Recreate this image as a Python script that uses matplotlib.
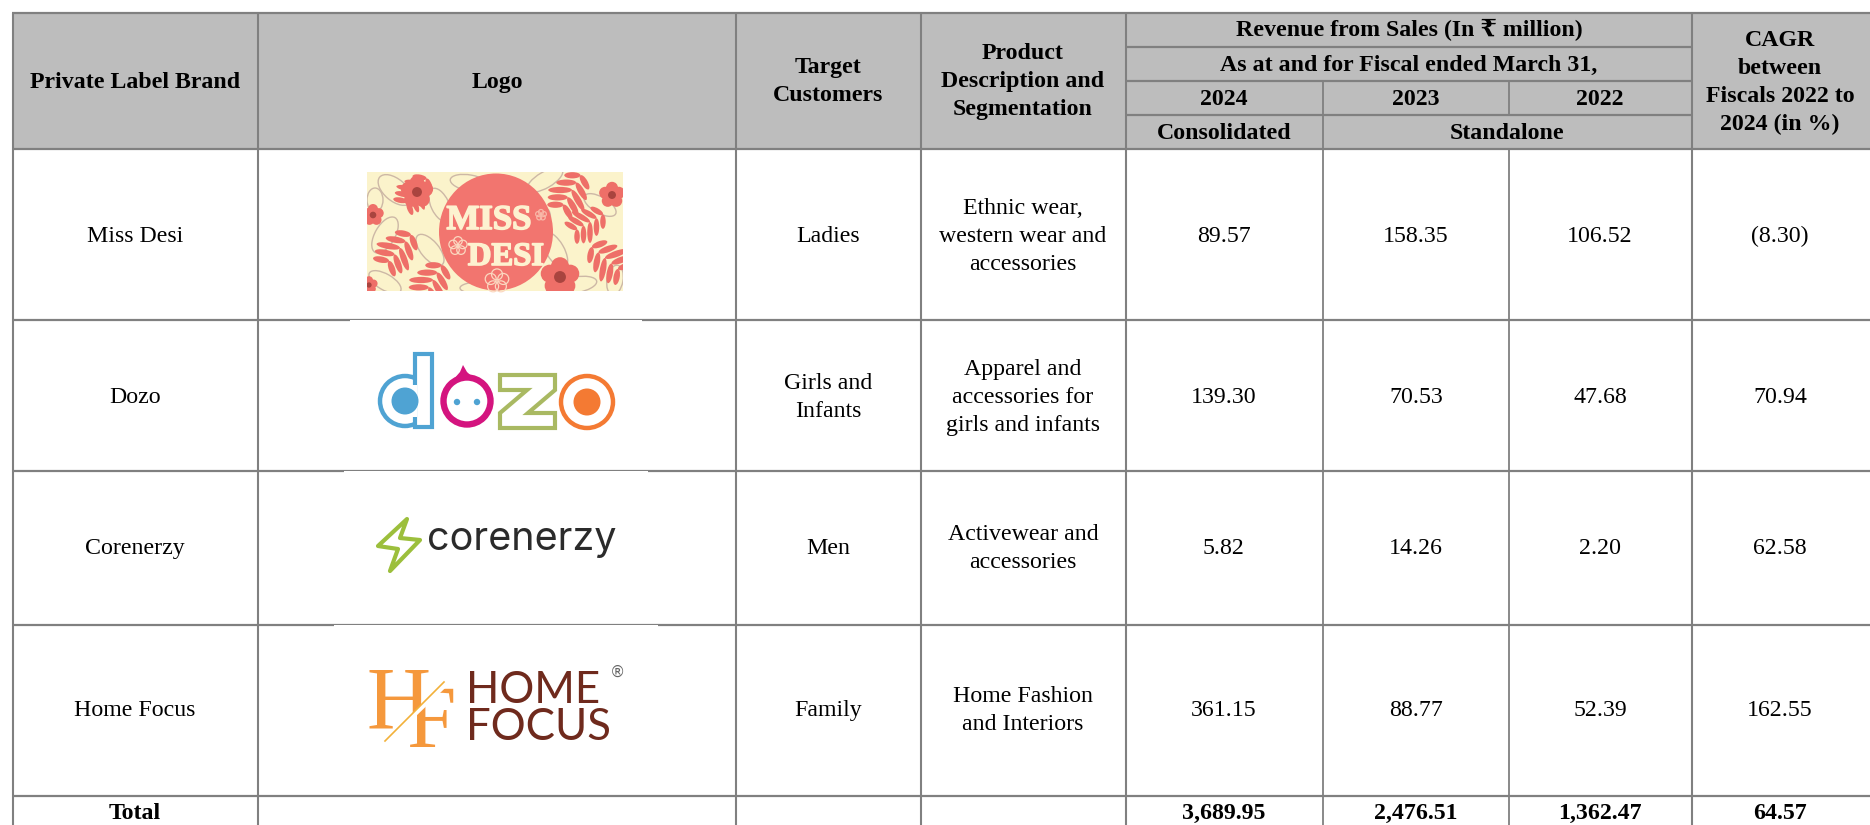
"""Private label brand table with logos, drawn on a pixel grid."""
import math

import matplotlib
matplotlib.use("Agg")
import matplotlib.patheffects as pe
import matplotlib.pyplot as plt
from matplotlib.font_manager import FontProperties
from matplotlib.patches import Circle, Ellipse, PathPatch, Polygon, Rectangle
from matplotlib.textpath import TextPath
from matplotlib.transforms import Affine2D

BRANDS = ["Miss Desi", "Dozo", "Corenerzy", "Home Focus"]
CUSTOMERS = ["Ladies", "Girls and\nInfants", "Men", "Family"]
DESCRIPTIONS = ["Ethnic wear,\nwestern wear and\naccessories",
                "Apparel and\naccessories for\ngirls and infants",
                "Activewear and\naccessories",
                "Home Fashion\nand Interiors"]
REV_2024 = [89.57, 139.30, 5.82, 361.15]
REV_2023 = [158.35, 70.53, 14.26, 88.77]
REV_2022 = [106.52, 47.68, 2.20, 52.39]
CAGR = [-8.30, 70.94, 62.58, 162.55]
TOTAL_LABEL = "Total"
TOTALS = [3689.95, 2476.51, 1362.47]
TOTAL_CAGR = 64.57

W, H = 1870, 825
GRAY = "#bdbdbd"
LINE = "#808080"
SERIF = ["Liberation Serif", "DejaVu Serif", "DejaVu Sans"]
FS = 17.2
LEAD = 27.7

XS = [12.5, 258, 736, 921, 1126, 1323, 1509, 1692]
HEAD_YS = [13, 47, 81, 115, 149]
ROW_YS = [149, 320, 471, 625, 796]

RED = "#ee6f68"
TAN = "#cdb8a6"
HF_ORANGE = "#f5983c"


def fmt(v):
    s = f"{abs(v):,.2f}"
    return f"({s})" if v < 0 else s


def cell(ax, x, yc, text, bold=False):
    lines = text.split("\n")
    for i, ln in enumerate(lines):
        y = yc + (i - (len(lines) - 1) / 2) * LEAD + 8
        ax.text(x, y, ln, ha="center", va="baseline", fontsize=FS,
                family=SERIF, weight="bold" if bold else "normal", color="black")


def draw_grid(ax):
    ax.add_patch(Rectangle((XS[0], HEAD_YS[0]), W - XS[0], HEAD_YS[-1] - HEAD_YS[0],
                           fc=GRAY, ec="none", zorder=0))
    kw = dict(color=LINE, solid_capstyle="butt", zorder=1)
    ax.plot([XS[0] - 1, W], [HEAD_YS[0]] * 2, lw=1.6, **kw)
    for y in ROW_YS:
        ax.plot([XS[0] - 1, W], [y, y], lw=1.6, **kw)
    # header inner rules
    for y in HEAD_YS[1:-1]:
        ax.plot([XS[4], XS[7]], [y, y], lw=1.6, **kw)
    for i, x in enumerate(XS):
        if i in (5, 6):
            continue
        ax.plot([x, x], [HEAD_YS[0], H], lw=1.5, **kw)
    ax.plot([XS[5]] * 2, [81, H], lw=1.3, **kw)
    ax.plot([XS[6]] * 2, [81, 115], lw=1.3, **kw)
    ax.plot([XS[6]] * 2, [149, H], lw=1.3, **kw)
    # logo images sit on top of the rules and shave them thinner
    for x0, x1, y in [(350, 642, 320), (344, 648, 471), (334, 658, 625)]:
        ax.add_patch(Rectangle((x0, y), x1 - x0, 2, fc="white", ec="none", zorder=1.5))


def leaf(ax, cx, cy, axis, size, clip):
    # feathered leaf: pairs of blades along a stem
    th = math.radians(axis)
    for k in range(-2, 3):
        px = cx + k * size * 0.34 * math.cos(th)
        py = cy + k * size * 0.34 * math.sin(th)
        blade = size * (0.95 - abs(k) * 0.15)
        for side in (-60, 60):
            a = math.radians(axis + side)
            e = Ellipse((px + blade / 2 * math.cos(a), py + blade / 2 * math.sin(a)),
                        blade, size * 0.25, angle=axis + side, fc=RED, ec="none", zorder=3)
            ax.add_patch(e)
            e.set_clip_path(clip)


def flower(ax, cx, cy, r, clip, core="#a9443f"):
    for i in range(5):
        a = math.radians(-90 + 72 * i)
        p = Circle((cx + math.cos(a) * r * 0.6, cy + math.sin(a) * r * 0.6), r * 0.5,
                   fc=RED, ec="none", zorder=3)
        ax.add_patch(p)
        p.set_clip_path(clip)
    c = Circle((cx, cy), r * 0.33, fc=core, ec="none", zorder=3.1)
    ax.add_patch(c)
    c.set_clip_path(clip)


def line_flower(ax, cx, cy, r, color, z):
    for i in range(5):
        a = math.radians(-90 + 72 * i)
        ax.add_patch(Circle((cx + math.cos(a) * r * 0.6, cy + math.sin(a) * r * 0.6), r * 0.5,
                            fc="none", ec=color, lw=0.9, zorder=z))


def logo_miss_desi(ax):
    bg = Rectangle((367, 172), 256, 119, fc="#fbf3cb", ec="none", zorder=2)
    ax.add_patch(bg)
    for cx, cy, w, h, ang in [(395, 190, 40, 22, 40), (440, 205, 36, 18, 65), (385, 235, 40, 20, 120),
                              (430, 250, 38, 18, 50), (385, 282, 36, 16, 30), (470, 183, 40, 16, 10),
                              (545, 180, 40, 16, 150), (540, 225, 36, 18, 110), (555, 250, 40, 18, 60),
                              (600, 205, 36, 16, 30), (575, 285, 44, 16, 170), (615, 280, 30, 16, 100),
                              (480, 288, 40, 12, 0), (375, 200, 24, 16, 90)]:
        e = Ellipse((cx, cy), w, h, angle=ang, fc="none", ec=TAN, lw=1.0, zorder=2.5)
        ax.add_patch(e)
        e.set_clip_path(bg)
    for cx, cy, ang, size in [(400, 248, 130, 25), (433, 280, 120, 25), (572, 190, 120, 25),
                              (590, 222, 150, 22), (605, 258, 40, 25), (417, 190, 130, 22)]:
        leaf(ax, cx, cy, ang, size, bg)
    for cx, cy, r in [(417, 192, 15), (560, 277, 18), (612, 195, 12), (373, 215, 10), (369, 285, 8)]:
        flower(ax, cx, cy, r, bg)
    ax.add_patch(Ellipse((496, 232), 114, 117, fc="#f2756f", ec="none", zorder=4))
    line_flower(ax, 458, 246, 8.5, "#fbd8c0", 4.5)
    line_flower(ax, 497, 281, 11, "#fbd8c0", 4.5)
    line_flower(ax, 541, 215, 5, "#f8b8a8", 4.5)
    stroke = [pe.withStroke(linewidth=1.2, foreground="#fdf2d0")]
    ax.text(489, 229, "MISS", ha="center", va="baseline", fontsize=25, family=SERIF,
            weight="bold", color="#fdf2d0", zorder=5, path_effects=stroke)
    ax.text(506, 265, "DESI", ha="center", va="baseline", fontsize=23.5, family=SERIF,
            weight="bold", color="#fdf2d0", zorder=5, path_effects=stroke)


def logo_dozo(ax):
    blue, pink, olive, orange = "#4fa3d3", "#d4147f", "#a9b962", "#f47a33"
    # d
    ax.add_patch(Circle((405, 401), 25, fc="white", ec=blue, lw=3.2, zorder=2))
    ax.add_patch(Rectangle((415, 354), 17, 73, fc="white", ec=blue, lw=3.0, zorder=2.1))
    ax.add_patch(Rectangle((405, 385), 12, 32, fc="white", ec="none", zorder=2.2))
    ax.add_patch(Circle((405, 401), 13.5, fc=blue, ec="none", zorder=2.3))
    # o with face
    ax.add_patch(Polygon([(453, 380), (460, 372), (463, 365), (467, 372), (477, 381)],
                         fc=pink, ec="none", zorder=2))
    ax.add_patch(Circle((467, 401), 23.5, fc="white", ec=pink, lw=4.6, zorder=2.1))
    ax.add_patch(Circle((457, 402), 3.2, fc=blue, ec="none", zorder=2.2))
    ax.add_patch(Circle((477, 402), 3.2, fc=blue, ec="none", zorder=2.2))
    # z
    ax.add_patch(Polygon([(500, 375), (555, 375), (555, 390), (528, 413), (555, 413), (555, 428),
                          (500, 428), (500, 413), (527, 390), (500, 390)],
                         fc="white", ec=olive, lw=3.0, zorder=2))
    # o
    ax.add_patch(Circle((587, 402), 26, fc="white", ec=orange, lw=3.2, zorder=2))
    ax.add_patch(Circle((587, 402), 13.5, fc=orange, ec="none", zorder=2.1))


def logo_corenerzy(ax):
    ax.add_patch(Polygon([(407, 519), (378, 546), (398, 549), (390, 571), (420, 540), (400, 538)],
                         fc="white", ec="#9cbf3c", lw=3.0, joinstyle="round", zorder=2))
    ax.text(427, 550, "corenerzy", ha="left", va="baseline", fontsize=28.5, family="Inter",
            color="#2b2b2b", zorder=2)


def logo_home_focus(ax):
    # monogram split on a diagonal: H keeps the upper left, F the lower right
    a, b = (360, 764), (462, 666)
    ax.text(399, 727, "H", ha="center", va="baseline", fontsize=64, family=SERIF,
            color=HF_ORANGE, zorder=2)
    ax.add_patch(Polygon([a, b, (462, 764)], fc="white", ec="none", zorder=2.1))
    f_path = TextPath((0, 0), "F", size=64 * 100 / 72, prop=FontProperties(family=SERIF))
    f_tf = Affine2D().scale(1, -1).translate(407, 747) + ax.transData
    f_patch = PathPatch(f_path, fc=HF_ORANGE, ec="none", transform=f_tf, zorder=3)
    ax.add_patch(f_patch)
    f_patch.set_clip_path(Polygon([(a[0] + 3, a[1] + 3), (b[0] + 3, b[1] + 3), (470, 666), (470, 764)],
                                  transform=ax.transData))
    ax.plot([385, 444], [741, 682], color="#f2b13a", lw=1.2, zorder=4)
    ax.text(466, 703, "HOME", ha="left", va="baseline", fontsize=31.5, family="Lato",
            color="#6f2a1d", zorder=2)
    ax.text(466, 740, "FOCUS", ha="left", va="baseline", fontsize=31.5, family="Lato",
            color="#6f2a1d", zorder=2)
    ax.text(618, 672, "\u00ae", ha="center", va="center", fontsize=11, family="DejaVu Sans",
            color="#666666", zorder=2)


def main():
    fig = plt.figure(figsize=(W / 100, H / 100), dpi=100)
    ax = fig.add_axes([0, 0, 1, 1])
    ax.set_xlim(0, W)
    ax.set_ylim(H, 0)
    ax.axis("off")

    draw_grid(ax)

    cell(ax, 135, 80, "Private Label Brand", True)
    cell(ax, 497, 80, "Logo", True)
    cell(ax, 828, 79, "Target\nCustomers", True)
    cell(ax, 1023, 79, "Product\nDescription and\nSegmentation", True)
    cell(ax, 1409, 28, "Revenue from Sales (In \u20b9 million)", True)
    cell(ax, 1409, 63, "As at and for Fiscal ended March 31,", True)
    cell(ax, 1224, 97, "2024", True)
    cell(ax, 1416, 97, "2023", True)
    cell(ax, 1600, 97, "2022", True)
    cell(ax, 1224, 131, "Consolidated", True)
    cell(ax, 1507, 131, "Standalone", True)
    cell(ax, 1780, 80, "CAGR\nbetween\nFiscals 2022 to\n2024 (in %)", True)

    centers = [234, 395, 546, 708]
    for i, yc in enumerate(centers):
        cell(ax, 135, yc, BRANDS[i])
        cell(ax, 828, yc, CUSTOMERS[i])
        cell(ax, 1023, yc, DESCRIPTIONS[i])
        cell(ax, 1224, yc, fmt(REV_2024[i]))
        cell(ax, 1416, yc, fmt(REV_2023[i]))
        cell(ax, 1600, yc, fmt(REV_2022[i]))
        cell(ax, 1780, yc, fmt(CAGR[i]))

    cell(ax, 135, 811, TOTAL_LABEL, True)
    cell(ax, 1224, 811, fmt(TOTALS[0]), True)
    cell(ax, 1416, 811, fmt(TOTALS[1]), True)
    cell(ax, 1600, 811, fmt(TOTALS[2]), True)
    cell(ax, 1780, 811, fmt(TOTAL_CAGR), True)

    logo_miss_desi(ax)
    logo_dozo(ax)
    logo_corenerzy(ax)
    logo_home_focus(ax)

    fig.savefig("out.png", dpi=100)


if __name__ == "__main__":
    main()
